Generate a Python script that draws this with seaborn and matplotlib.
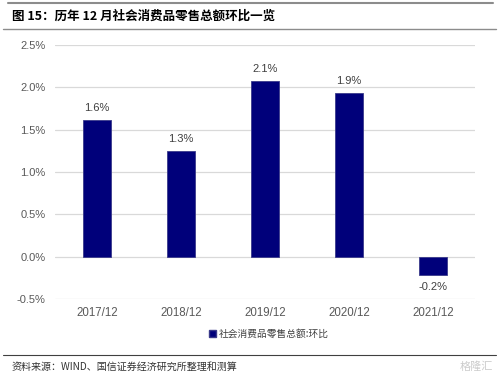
import matplotlib
matplotlib.use("Agg")
import matplotlib.pyplot as plt
import seaborn as sns
import pandas as pd
from matplotlib.lines import Line2D
from matplotlib.patches import Patch

categories = ["2017/12", "2018/12", "2019/12", "2020/12", "2021/12"]
values = [1.61, 1.25, 2.08, 1.93, -0.22]
labels = ["1.6%", "1.3%", "2.1%", "1.9%", "-0.2%"]
yticks = [-0.5, 0.0, 0.5, 1.0, 1.5, 2.0, 2.5]
series_name = "社会消费品零售总额:环比"
title = "图 15：历年 12 月社会消费品零售总额环比一览"
source = "资料来源：WIND、国信证券经济研究所整理和测算"

sns.set_theme(style="white")
plt.rcParams['font.family'] = ['Noto Sans CJK SC', 'DejaVu Sans']

df = pd.DataFrame({"cat": categories, "val": values})

fig = plt.figure(figsize=(4.99, 3.77), dpi=100)
ax = fig.add_axes([55/499, 1-299/377, 420/499, 254/377])

bar_color = "#00007A"
sns.barplot(data=df, x="cat", y="val", color=bar_color, width=0.33,
            edgecolor="#3a3a8a", linewidth=0.6, saturation=1, ax=ax, zorder=3)

num_font = ['Liberation Sans', 'DejaVu Sans']
ax.set_xlim(-0.5, 4.5)
ax.set_ylim(-0.5, 2.5)
ax.set_yticks(yticks)
ax.set_yticklabels([f"{t:.1f}%" for t in yticks], color="#595959", fontsize=8,
                   family=num_font)
ax.set_xticks(range(len(categories)))
ax.set_xticklabels(categories, color="#595959", fontsize=8.3, family=num_font)
ax.tick_params(axis='y', length=0, pad=7)
ax.tick_params(axis='x', length=0, pad=6)
ax.set_xlabel("")
ax.set_ylabel("")
for s in ax.spines.values():
    s.set_visible(False)
ax.yaxis.grid(True, color="#d9d9d9", linewidth=0.9, zorder=0)
ax.set_axisbelow(True)

for i, (v, lab) in enumerate(zip(values, labels)):
    if v >= 0:
        ax.annotate(lab, (i, v), xytext=(0, 5), textcoords="offset points",
                    ha="center", va="bottom", fontsize=8, color="#404040",
                    family=num_font)
    else:
        ax.annotate(lab, (i, v), xytext=(0, -5), textcoords="offset points",
                    ha="center", va="top", fontsize=8, color="#404040",
                    family=num_font)

# legend
leg = fig.legend(handles=[Patch(facecolor=bar_color, edgecolor="#3a3a8a", label=series_name)],
                 loc="center", bbox_to_anchor=(269/499, 1-334/377), frameon=False,
                 fontsize=7, handlelength=0.7, handleheight=0.7, handletextpad=0.3)
for t in leg.get_texts():
    t.set_color("#404040")

# header / footer lines
fig.add_artist(Line2D([8/499, 493/499], [1-3/377, 1-3/377], color="#8c8c8c", linewidth=1.5))
fig.add_artist(Line2D([3/499, 496/499], [1-29/377, 1-29/377], color="#8c8c8c", linewidth=1.0))
fig.add_artist(Line2D([3/499, 496/499], [1-355/377, 1-355/377], color="#404040", linewidth=0.8))

fig.text(12/499, 1-16/377, title, fontsize=9, fontweight="bold", color="black",
         ha="left", va="center")
fig.text(12/499, 1-367/377, source, fontsize=7.2, color="#333333", ha="left", va="center")
fig.text(493/499, 1-367/377, "格隆汇", fontsize=8, color="#cccccc", ha="right", va="center")

fig.savefig("out.png", dpi=100)
